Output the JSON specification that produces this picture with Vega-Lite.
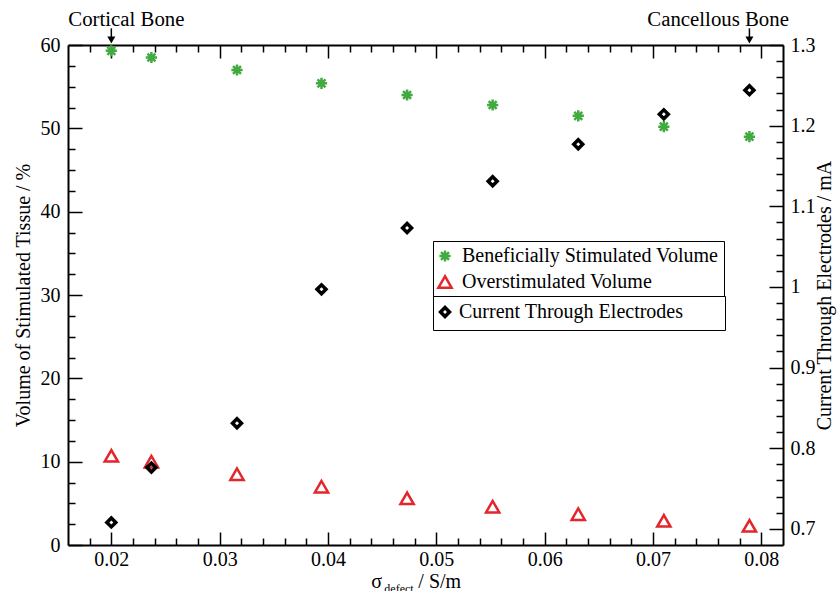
{
  "$schema": "https://vega.github.io/schema/vega-lite/v6.json",
  "width": 715,
  "height": 500,
  "autosize": {"type": "none"},
  "padding": {"left": 68, "top": 45, "right": 54, "bottom": 46},
  "background": "white",
  "config": {
    "view": {"stroke": null},
    "font": "Liberation Serif",
    "axis": {
      "domainColor": "black", "domainWidth": 2, "tickColor": "black", "tickWidth": 1.5,
      "labelFont": "Liberation Serif", "labelFontSize": 20, "labelColor": "black",
      "titleFont": "Liberation Serif", "titleFontSize": 20, "titleFontWeight": "normal", "titleColor": "black",
      "grid": false
    }
  },
  "datasets": {
    "volume": [
      {"x": 0.02, "series": "Beneficially Stimulated Volume", "value": 59.3},
      {"x": 0.0237, "series": "Beneficially Stimulated Volume", "value": 58.5},
      {"x": 0.0316, "series": "Beneficially Stimulated Volume", "value": 57.0},
      {"x": 0.0394, "series": "Beneficially Stimulated Volume", "value": 55.4},
      {"x": 0.0473, "series": "Beneficially Stimulated Volume", "value": 54.0},
      {"x": 0.0552, "series": "Beneficially Stimulated Volume", "value": 52.8},
      {"x": 0.0631, "series": "Beneficially Stimulated Volume", "value": 51.5},
      {"x": 0.071, "series": "Beneficially Stimulated Volume", "value": 50.2},
      {"x": 0.0789, "series": "Beneficially Stimulated Volume", "value": 49.0},
      {"x": 0.02, "series": "Overstimulated Volume", "value": 10.7},
      {"x": 0.0237, "series": "Overstimulated Volume", "value": 10.0},
      {"x": 0.0316, "series": "Overstimulated Volume", "value": 8.5},
      {"x": 0.0394, "series": "Overstimulated Volume", "value": 7.0},
      {"x": 0.0473, "series": "Overstimulated Volume", "value": 5.6},
      {"x": 0.0552, "series": "Overstimulated Volume", "value": 4.6},
      {"x": 0.0631, "series": "Overstimulated Volume", "value": 3.7},
      {"x": 0.071, "series": "Overstimulated Volume", "value": 2.9},
      {"x": 0.0789, "series": "Overstimulated Volume", "value": 2.3}
    ],
    "current": [
      {"x": 0.02, "series": "Current Through Electrodes", "current": 0.708},
      {"x": 0.0237, "series": "Current Through Electrodes", "current": 0.776},
      {"x": 0.0316, "series": "Current Through Electrodes", "current": 0.831},
      {"x": 0.0394, "series": "Current Through Electrodes", "current": 0.997},
      {"x": 0.0473, "series": "Current Through Electrodes", "current": 1.073},
      {"x": 0.0552, "series": "Current Through Electrodes", "current": 1.131},
      {"x": 0.0631, "series": "Current Through Electrodes", "current": 1.177},
      {"x": 0.071, "series": "Current Through Electrodes", "current": 1.214},
      {"x": 0.0789, "series": "Current Through Electrodes", "current": 1.244}
    ],
    "notes": [
      {"label": "Cortical Bone", "x": 0.01603, "y": 62.3},
      {"label": "Cancellous Bone", "x": 0.06948, "y": 62.3}
    ],
    "title": [
      {"label": "σ", "x": 0.044, "y": -5.16},
      {"label": "/ S/m", "x": 0.04834, "y": -5.16}
    ],
    "sub": [
      {"label": "defect", "x": 0.0452, "y": -5.76}
    ],
    "arrows": [
      {"x": 0.02, "y": 62.0, "y2": 60.6},
      {"x": 0.0789, "y": 62.0, "y2": 60.6}
    ]
  },
  "layer": [
    {
      "data": {"name": "volume"},
      "mark": {"type": "point", "filled": false, "size": 175, "strokeWidth": 2.5, "opacity": 1},
      "encoding": {
        "x": {
          "field": "x", "type": "quantitative",
          "scale": {"domain": [0.016, 0.082], "nice": false, "zero": false},
          "axis": {
            "orient": "bottom", "title": null,
            "values": [0.018, 0.02, 0.022, 0.024, 0.026, 0.028, 0.03, 0.032, 0.034, 0.036, 0.038, 0.04, 0.042, 0.044, 0.046, 0.048, 0.05, 0.052, 0.054, 0.056, 0.058, 0.06, 0.062, 0.064, 0.066, 0.068, 0.07, 0.072, 0.074, 0.076, 0.078, 0.08],
            "labelExpr": "abs(datum.value*100 - round(datum.value*100)) < 0.001 ? format(datum.value, '.2f') : ''",
            "tickSize": {"condition": {"test": "abs(datum.value*100 - round(datum.value*100)) < 0.001", "value": -13}, "value": -7},
            "labelPadding": 17,
            "labelFlush": false
          }
        },
        "y": {
          "field": "value", "type": "quantitative",
          "scale": {"domain": [0, 60], "nice": false},
          "axis": {
            "orient": "left", "title": "Volume of Stimulated Tissue / %",
            "values": [0, 2.5, 5, 7.5, 10, 12.5, 15, 17.5, 20, 22.5, 25, 27.5, 30, 32.5, 35, 37.5, 40, 42.5, 45, 47.5, 50, 52.5, 55, 57.5, 60],
            "labelExpr": "datum.value % 10 == 0 ? format(datum.value, 'd') : ''",
            "tickSize": {"condition": {"test": "datum.value % 10 == 0", "value": -14}, "value": -7},
            "labelPadding": 22,
            "labelFlush": false,
            "titlePadding": 7
          }
        },
        "color": {
          "field": "series", "type": "nominal",
          "scale": {"domain": ["Beneficially Stimulated Volume", "Overstimulated Volume"], "range": ["#41ab3f", "#e3262b"]},
          "legend": {
            "orient": "none", "legendX": 365, "legendY": 196, "title": null,
            "strokeColor": "black", "fillColor": "white", "padding": 5, "cornerRadius": 0,
            "labelFont": "Liberation Serif", "labelFontSize": 20, "labelColor": "black", "labelLimit": 500,
            "symbolStrokeWidth": 2.5, "symbolSize": 175, "rowPadding": 4, "labelOffset": 7, "symbolOffset": -3
          }
        },
        "shape": {
          "field": "series", "type": "nominal",
          "scale": {"domain": ["Beneficially Stimulated Volume", "Overstimulated Volume"], "range": ["M-0.85,0L0.85,0M0,-0.85L0,0.85M-0.6,-0.6L0.6,0.6M-0.6,0.6L0.6,-0.6", "triangle-up"]}
        }
      }
    },
    {
      "data": {"name": "current"},
      "mark": {"type": "point", "filled": false, "size": 80, "strokeWidth": 3.5, "opacity": 1},
      "encoding": {
        "x": {
          "field": "x", "type": "quantitative",
          "scale": {"domain": [0.016, 0.082], "nice": false, "zero": false},
          "axis": {
            "orient": "top", "title": null, "labels": false,
            "values": [0.018, 0.02, 0.022, 0.024, 0.026, 0.028, 0.03, 0.032, 0.034, 0.036, 0.038, 0.04, 0.042, 0.044, 0.046, 0.048, 0.05, 0.052, 0.054, 0.056, 0.058, 0.06, 0.062, 0.064, 0.066, 0.068, 0.07, 0.072, 0.074, 0.076, 0.078, 0.08],
            "tickSize": {"condition": {"test": "abs(datum.value*100 - round(datum.value*100)) < 0.001", "value": -13}, "value": -7}
          }
        },
        "y": {
          "field": "current", "type": "quantitative",
          "scale": {"domain": [0.68, 1.3], "nice": false, "zero": false},
          "axis": {
            "orient": "right", "title": "Current Through Electrodes / mA",
            "values": [0.7, 0.72, 0.74, 0.76, 0.78, 0.8, 0.82, 0.84, 0.86, 0.88, 0.9, 0.92, 0.94, 0.96, 0.98, 1.0, 1.02, 1.04, 1.06, 1.08, 1.1, 1.12, 1.14, 1.16, 1.18, 1.2, 1.22, 1.24, 1.26, 1.28, 1.3],
            "labelExpr": "abs(datum.value*10 - round(datum.value*10)) < 0.001 ? format(datum.value, '.1~f') : ''",
            "tickSize": {"condition": {"test": "abs(datum.value*10 - round(datum.value*10)) < 0.001", "value": -14}, "value": -7},
            "labelPadding": 21,
            "labelFlush": false,
            "titleAngle": 270,
            "titlePadding": 19
          }
        },
        "color": {
          "field": "series", "type": "nominal",
          "scale": {"domain": ["Current Through Electrodes"], "range": ["black"]},
          "legend": {
            "orient": "none", "legendX": 365, "legendY": 251, "title": null,
            "strokeColor": "black", "fillColor": "white", "padding": 6, "cornerRadius": 0,
            "labelFont": "Liberation Serif", "labelFontSize": 20, "labelColor": "black", "labelLimit": 500,
            "labelExpr": "datum.label + '\u00a0\u00a0\u00a0\u00a0\u00a0\u00a0\u00a0\u200b'",
            "symbolStrokeWidth": 3.5, "symbolSize": 80, "labelOffset": 4, "symbolOffset": -4
          }
        },
        "shape": {
          "field": "series", "type": "nominal",
          "scale": {"domain": ["Current Through Electrodes"], "range": ["diamond"]}
        }
      }
    },
    {
      "data": {"name": "notes"},
      "mark": {"type": "text", "font": "Liberation Serif", "fontSize": 20.8, "align": "left", "baseline": "alphabetic", "color": "black"},
      "encoding": {
        "x": {"field": "x", "type": "quantitative", "scale": {"domain": [0.016, 0.082], "nice": false, "zero": false}, "axis": null},
        "y": {"field": "y", "type": "quantitative", "scale": {"domain": [0, 60], "nice": false}, "axis": null},
        "text": {"field": "label"}
      }
    },
    {
      "data": {"name": "title"},
      "mark": {"type": "text", "font": "Liberation Serif", "fontSize": 20, "align": "left", "baseline": "alphabetic", "color": "black"},
      "encoding": {
        "x": {"field": "x", "type": "quantitative", "scale": {"domain": [0.016, 0.082], "nice": false, "zero": false}, "axis": null},
        "y": {"field": "y", "type": "quantitative", "scale": {"domain": [0, 60], "nice": false}, "axis": null},
        "text": {"field": "label"}
      }
    },
    {
      "data": {"name": "sub"},
      "mark": {"type": "text", "font": "Liberation Serif", "fontSize": 12, "align": "left", "baseline": "alphabetic", "color": "black"},
      "encoding": {
        "x": {"field": "x", "type": "quantitative", "scale": {"domain": [0.016, 0.082], "nice": false, "zero": false}, "axis": null},
        "y": {"field": "y", "type": "quantitative", "scale": {"domain": [0, 60], "nice": false}, "axis": null},
        "text": {"field": "label"}
      }
    },
    {
      "data": {"name": "arrows"},
      "mark": {"type": "rule", "color": "black", "strokeWidth": 1.5},
      "encoding": {
        "x": {"field": "x", "type": "quantitative", "scale": {"domain": [0.016, 0.082], "nice": false, "zero": false}, "axis": null},
        "y": {"field": "y", "type": "quantitative", "scale": {"domain": [0, 60], "nice": false}, "axis": null},
        "y2": {"field": "y2"}
      }
    },
    {
      "data": {"name": "arrows"},
      "mark": {"type": "point", "shape": "triangle-down", "filled": true, "size": 64, "color": "black", "opacity": 1},
      "encoding": {
        "x": {"field": "x", "type": "quantitative", "scale": {"domain": [0.016, 0.082], "nice": false, "zero": false}, "axis": null},
        "y": {"field": "y2", "type": "quantitative", "scale": {"domain": [0, 60], "nice": false}, "axis": null}
      }
    }
  ],
  "resolve": {
    "scale": {"y": "independent", "color": "independent", "shape": "independent"},
    "axis": {"x": "independent"}
  }
}
